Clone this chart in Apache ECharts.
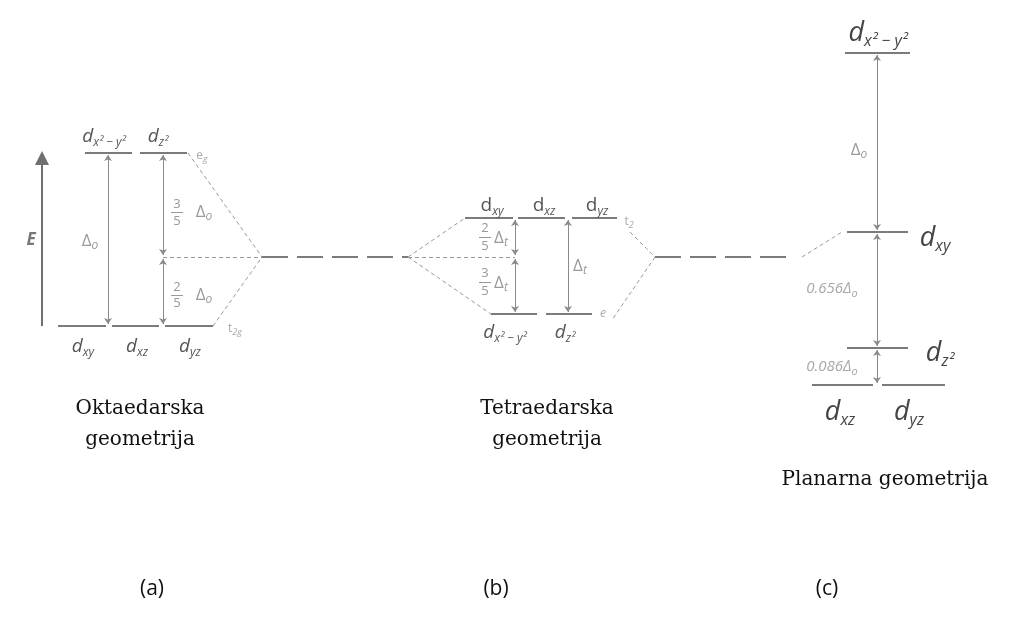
<!DOCTYPE html>
<html>
<head>
<meta charset="utf-8">
<script src="https://cdn.jsdelivr.net/npm/echarts@6/dist/echarts.min.js"></script>
<style>
  html, body { margin: 0; padding: 0; background: #fff; }
  #main { width: 1013px; height: 631px; }
</style>
</head>
<body>
<div id="main"></div>
<script>
const chart = echarts.init(document.getElementById('main'));

// energijski nivoi [x1, x2, E] (E na osi y, odozgo prema dolje)
const octaLevels = [[85, 132, 153], [140, 187, 153], [58, 106, 326], [112, 159, 326], [165, 213, 326]];
const tetraLevels = [[465, 513, 218], [518, 565, 218], [572, 617, 218], [491, 537, 314], [546, 592, 314]];
const planarLevels = [[845, 910, 53], [847, 908, 232], [847, 908, 348], [812, 873, 385], [882, 945, 385]];

// barycentar (isprekidano, duge crte)
const baryLines = [[262, 408, 257], [655, 793, 257]];

// korelacijske linije
const corrLines = [
  [[188, 153], [262, 257]], [[213, 326], [262, 257]], [[163, 257], [262, 257]],
  [[408, 257], [465, 218]], [[408, 257], [491, 314]], [[408, 257], [515, 257]],
  [[630, 232], [655, 257]], [[655, 257], [612, 320]],
  [[802, 257], [842, 232]]
];

// strelice razlike energija
const gapArrows = [
  [[108, 155], [108, 324]], [[163, 155], [163, 255]], [[163, 259], [163, 324]],
  [[515, 220], [515, 255]], [[515, 259], [515, 312]], [[568, 220], [568, 312]],
  [[877, 55], [877, 230]], [[877, 234], [877, 346]], [[877, 350], [877, 383]]
];

// razlomci: [x, y brojnika, y nazivnika, brojnik, nazivnik]
const fractions = [[177, 204, 221, '3', '5'], [177, 287, 303, '2', '5'], [485, 228, 246, '2', '5'], [485, 273, 291, '3', '5']];

// oznake orbitala i razlika
const labels = [
  { value: [104, 137], t: '{d|d}{s|x² − y²}' },
  { value: [158, 137], t: '{d|d}{s|z²}' },
  { value: [83, 347], t: '{d|d}{s|xy}' },
  { value: [137, 347], t: '{d|d}{s|xz}' },
  { value: [190, 347], t: '{d|d}{s|yz}' },
  { value: [202, 156], t: '{e|e}{es|g}' },
  { value: [235, 329], t: '{e|t}{es|2g}' },
  { value: [90, 241], t: '{g|Δ}{gs|o}' },
  { value: [204, 212], t: '{g|Δ}{gs|o}' },
  { value: [204, 295], t: '{g|Δ}{gs|o}' },
  { value: [492, 206], t: '{u|d}{s|xy}' },
  { value: [544, 206], t: '{u|d}{s|xz}' },
  { value: [597, 206], t: '{u|d}{s|yz}' },
  { value: [505, 333], t: '{d|d}{s|x² − y²}' },
  { value: [565, 333], t: '{d|d}{s|z²}' },
  { value: [629, 222], t: '{e|t}{es|2}' },
  { value: [603, 314], t: '{ei|e}' },
  { value: [501, 238], t: '{g|Δ}{gs|t}' },
  { value: [501, 283], t: '{g|Δ}{gs|t}' },
  { value: [580, 266], t: '{g|Δ}{gs|t}' },
  { value: [878, 33], t: '{D|d}{S|x² − y²}' },
  { value: [935, 238], t: '{D|d}{S|xy}' },
  { value: [940, 353], t: '{D|d}{S|z²}' },
  { value: [840, 412], t: '{D|d}{S|xz}' },
  { value: [909, 412], t: '{D|d}{S|yz}' },
  { value: [859, 150], t: '{g|Δ}{gs|o}' },
  { value: [832, 289], t: '{n|0.656Δ}{ns|o}' },
  { value: [832, 367], t: '{n|0.086Δ}{ns|o}' },
  { value: [31, 240], t: '{E|E}' }
];

// naslovi
const captions = [
  { value: [140, 409], t: 'Oktaedarska' },
  { value: [140, 440], t: 'geometrija' },
  { value: [547, 409], t: 'Tetraedarska' },
  { value: [547, 440], t: 'geometrija' },
  { value: [885, 480], t: 'Planarna geometrija' }
];
const panelNames = [
  { value: [152, 589], t: '(a)' },
  { value: [496, 589], t: '(b)' },
  { value: [827, 589], t: '(c)' }
];

const gray = '#7b7b7b';
const dark = '#555';

function levelData(levels) {
  return levels.map(l => ({ coords: [[l[0], l[2]], [l[1], l[2]]] }));
}

const fracBars = fractions.map(f => ({ coords: [[f[0] - 6, (f[1] + f[2]) / 2], [f[0] + 6, (f[1] + f[2]) / 2]] }));
const fracText = [];
fractions.forEach(f => {
  fracText.push({ value: [f[0], f[1]], t: '{f|' + f[3] + '}' });
  fracText.push({ value: [f[0], f[2]], t: '{f|' + f[4] + '}' });
});

const rich = {
  d: { fontFamily: 'Open Sans', fontStyle: 'italic', fontSize: 19, color: dark, lineHeight: 24 },
  u: { fontFamily: 'Open Sans', fontSize: 19, color: dark, lineHeight: 24 },
  s: { fontFamily: 'Open Sans', fontStyle: 'italic', fontSize: 12, color: dark, lineHeight: 14, verticalAlign: 'bottom' },
  e: { fontFamily: 'Open Sans', fontSize: 12, color: '#aaa', lineHeight: 16 },
  es: { fontFamily: 'Open Sans', fontStyle: 'italic', fontSize: 9, color: '#aaa', lineHeight: 10, verticalAlign: 'bottom' },
  ei: { fontFamily: 'Open Sans', fontStyle: 'italic', fontSize: 12, color: '#aaa' },
  g: { fontFamily: 'Open Sans', fontSize: 17, color: '#9a9a9a', lineHeight: 22 },
  gs: { fontFamily: 'Open Sans', fontStyle: 'italic', fontSize: 12, color: '#9a9a9a', lineHeight: 12, verticalAlign: 'bottom' },
  f: { fontFamily: 'Open Sans', fontSize: 13, color: '#999' },
  D: { fontFamily: 'Open Sans', fontStyle: 'italic', fontSize: 27, color: '#444', lineHeight: 32 },
  S: { fontFamily: 'Open Sans', fontStyle: 'italic', fontSize: 16, color: '#444', lineHeight: 18, verticalAlign: 'bottom' },
  n: { fontFamily: 'Open Sans', fontStyle: 'italic', fontSize: 15, color: '#a8a8a8', lineHeight: 20 },
  ns: { fontFamily: 'Open Sans', fontStyle: 'italic', fontSize: 11, color: '#a8a8a8', lineHeight: 11, verticalAlign: 'bottom' },
  E: { fontFamily: 'Open Sans', fontStyle: 'italic', fontWeight: 'bold', fontSize: 17, color: '#777' }
};

function textSeries(data, extra) {
  return Object.assign({
    type: 'scatter',
    symbolSize: 0,
    silent: true,
    itemStyle: { opacity: 1 },
    data: data,
    label: {
      show: true,
      position: 'inside',
      align: 'center',
      verticalAlign: 'middle',
      formatter: p => p.data.t,
      rich: rich
    }
  }, extra || {});
}

chart.setOption({
  animation: false,
  backgroundColor: '#fff',
  grid: { left: 0, right: 0, top: 0, bottom: 0 },
  xAxis: { type: 'value', min: 0, max: 1013, show: false },
  yAxis: { type: 'value', min: 0, max: 631, inverse: true, show: false },
  series: [
    {
      type: 'lines', coordinateSystem: 'cartesian2d', silent: true,
      lineStyle: { color: gray, width: 2, opacity: 1 },
      data: levelData(octaLevels).concat(levelData(tetraLevels)).concat(levelData(planarLevels))
    },
    {
      type: 'lines', coordinateSystem: 'cartesian2d', silent: true,
      lineStyle: { color: gray, width: 2, type: [26, 9], opacity: 1 },
      data: levelData(baryLines)
    },
    {
      type: 'lines', coordinateSystem: 'cartesian2d', silent: true,
      lineStyle: { color: '#999', width: 1, type: [4, 3], opacity: 1 },
      data: corrLines.map(c => ({ coords: c }))
    },
    {
      type: 'lines', coordinateSystem: 'cartesian2d', silent: true,
      symbol: ['arrow', 'arrow'], symbolSize: 6,
      lineStyle: { color: '#8a8a8a', width: 1, opacity: 1 },
      data: gapArrows.map(c => ({ coords: c }))
    },
    {
      type: 'lines', coordinateSystem: 'cartesian2d', silent: true,
      symbol: ['none', 'triangle'], symbolSize: [11, 14],
      lineStyle: { color: '#6f6f6f', width: 2, opacity: 1 },
      data: [{ coords: [[42, 326], [42, 158]] }]
    },
    {
      type: 'lines', coordinateSystem: 'cartesian2d', silent: true,
      lineStyle: { color: '#999', width: 1, opacity: 1 },
      data: fracBars
    },
    textSeries(labels),
    textSeries(fracText),
    textSeries(captions, {
      label: {
        show: true, position: 'inside', formatter: p => p.data.t,
        fontFamily: 'DejaVu Serif', fontSize: 20, color: '#111'
      }
    }),
    textSeries(panelNames, {
      label: {
        show: true, position: 'inside', formatter: p => p.data.t,
        fontFamily: 'Open Sans', fontSize: 21, color: '#111'
      }
    })
  ]
});
</script>
</body>
</html>
